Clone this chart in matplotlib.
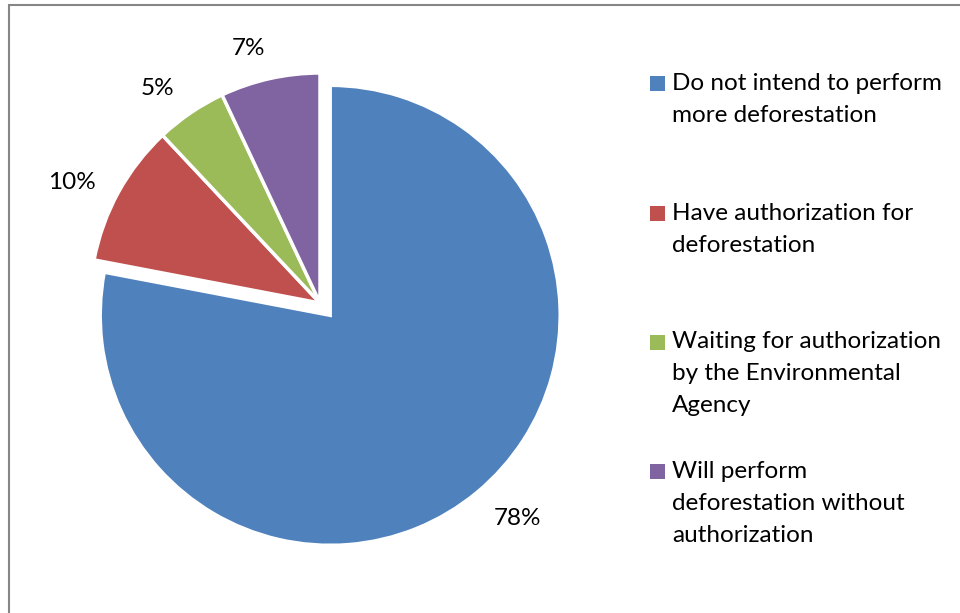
import matplotlib
matplotlib.use("Agg")
import numpy as np
import matplotlib.pyplot as plt
from matplotlib.patches import Rectangle
from matplotlib.lines import Line2D

# Survey answers on future deforestation
categories = [
    "Do not intend to perform\nmore deforestation",
    "Have authorization for\ndeforestation",
    "Waiting for authorization\nby the Environmental\nAgency",
    "Will perform\ndeforestation without\nauthorization",
]
shares = [78, 10, 5, 7]
colors = ["#4F81BD", "#C0504D", "#9BBB59", "#8064A2"]

plt.rcParams["font.family"] = ["Lato", "DejaVu Sans"]
FS = 17.5

W, H = 960, 613
R = 230
fig = plt.figure(figsize=(W / 100, H / 100), dpi=100)
ax = fig.add_axes([0, 0, 1, 1])

# pie() offsets exploded wedges in data units, so give the shift in pixels
explode = [16, 0, 0, 0]

wedges, texts, autotexts = ax.pie(
    shares,
    colors=colors,
    explode=explode,
    startangle=90,
    counterclock=False,
    center=(320, H - 303),
    radius=R,
    autopct=lambda p: f"{p:.0f}%",
    pctdistance=1.17,
    wedgeprops=dict(edgecolor="white", linewidth=2.5),
    textprops=dict(fontsize=FS, color="black"),
    frame=True,
)

# Nudge the percentage labels to a best-fit spot just outside each wedge
label_dist = [1.20, 1.20, 1.17, 1.15]
for w, t, d in zip(wedges, autotexts, label_dist):
    th = np.deg2rad((w.theta1 + w.theta2) / 2 + 3)
    cx, cy = w.center
    t.set_position((cx + d * w.r * np.cos(th), cy + d * w.r * np.sin(th)))

ax.set_xlim(0, W)
ax.set_ylim(0, H)
ax.set_aspect("equal")
ax.axis("off")

# Legend: colour square beside the first line of each entry
x_box, x_txt = 650, 672
tops = [83, 213, 342, 471]
line_step = 32
for lab, col, y0 in zip(categories, colors, tops):
    ax.add_patch(Rectangle((x_box, H - y0 - 8), 15, 15, facecolor=col,
                           edgecolor="none"))
    for i, line in enumerate(lab.split("\n")):
        ax.text(x_txt, H - (y0 + i * line_step), line, fontsize=FS,
                va="center", ha="left", color="black")

# Chart-area border
ax.add_line(Line2D([9, 9, W], [0, H - 5, H - 5], color="#868686",
                   linewidth=1.5, solid_joinstyle="miter"))

fig.savefig("out.png", dpi=100)
